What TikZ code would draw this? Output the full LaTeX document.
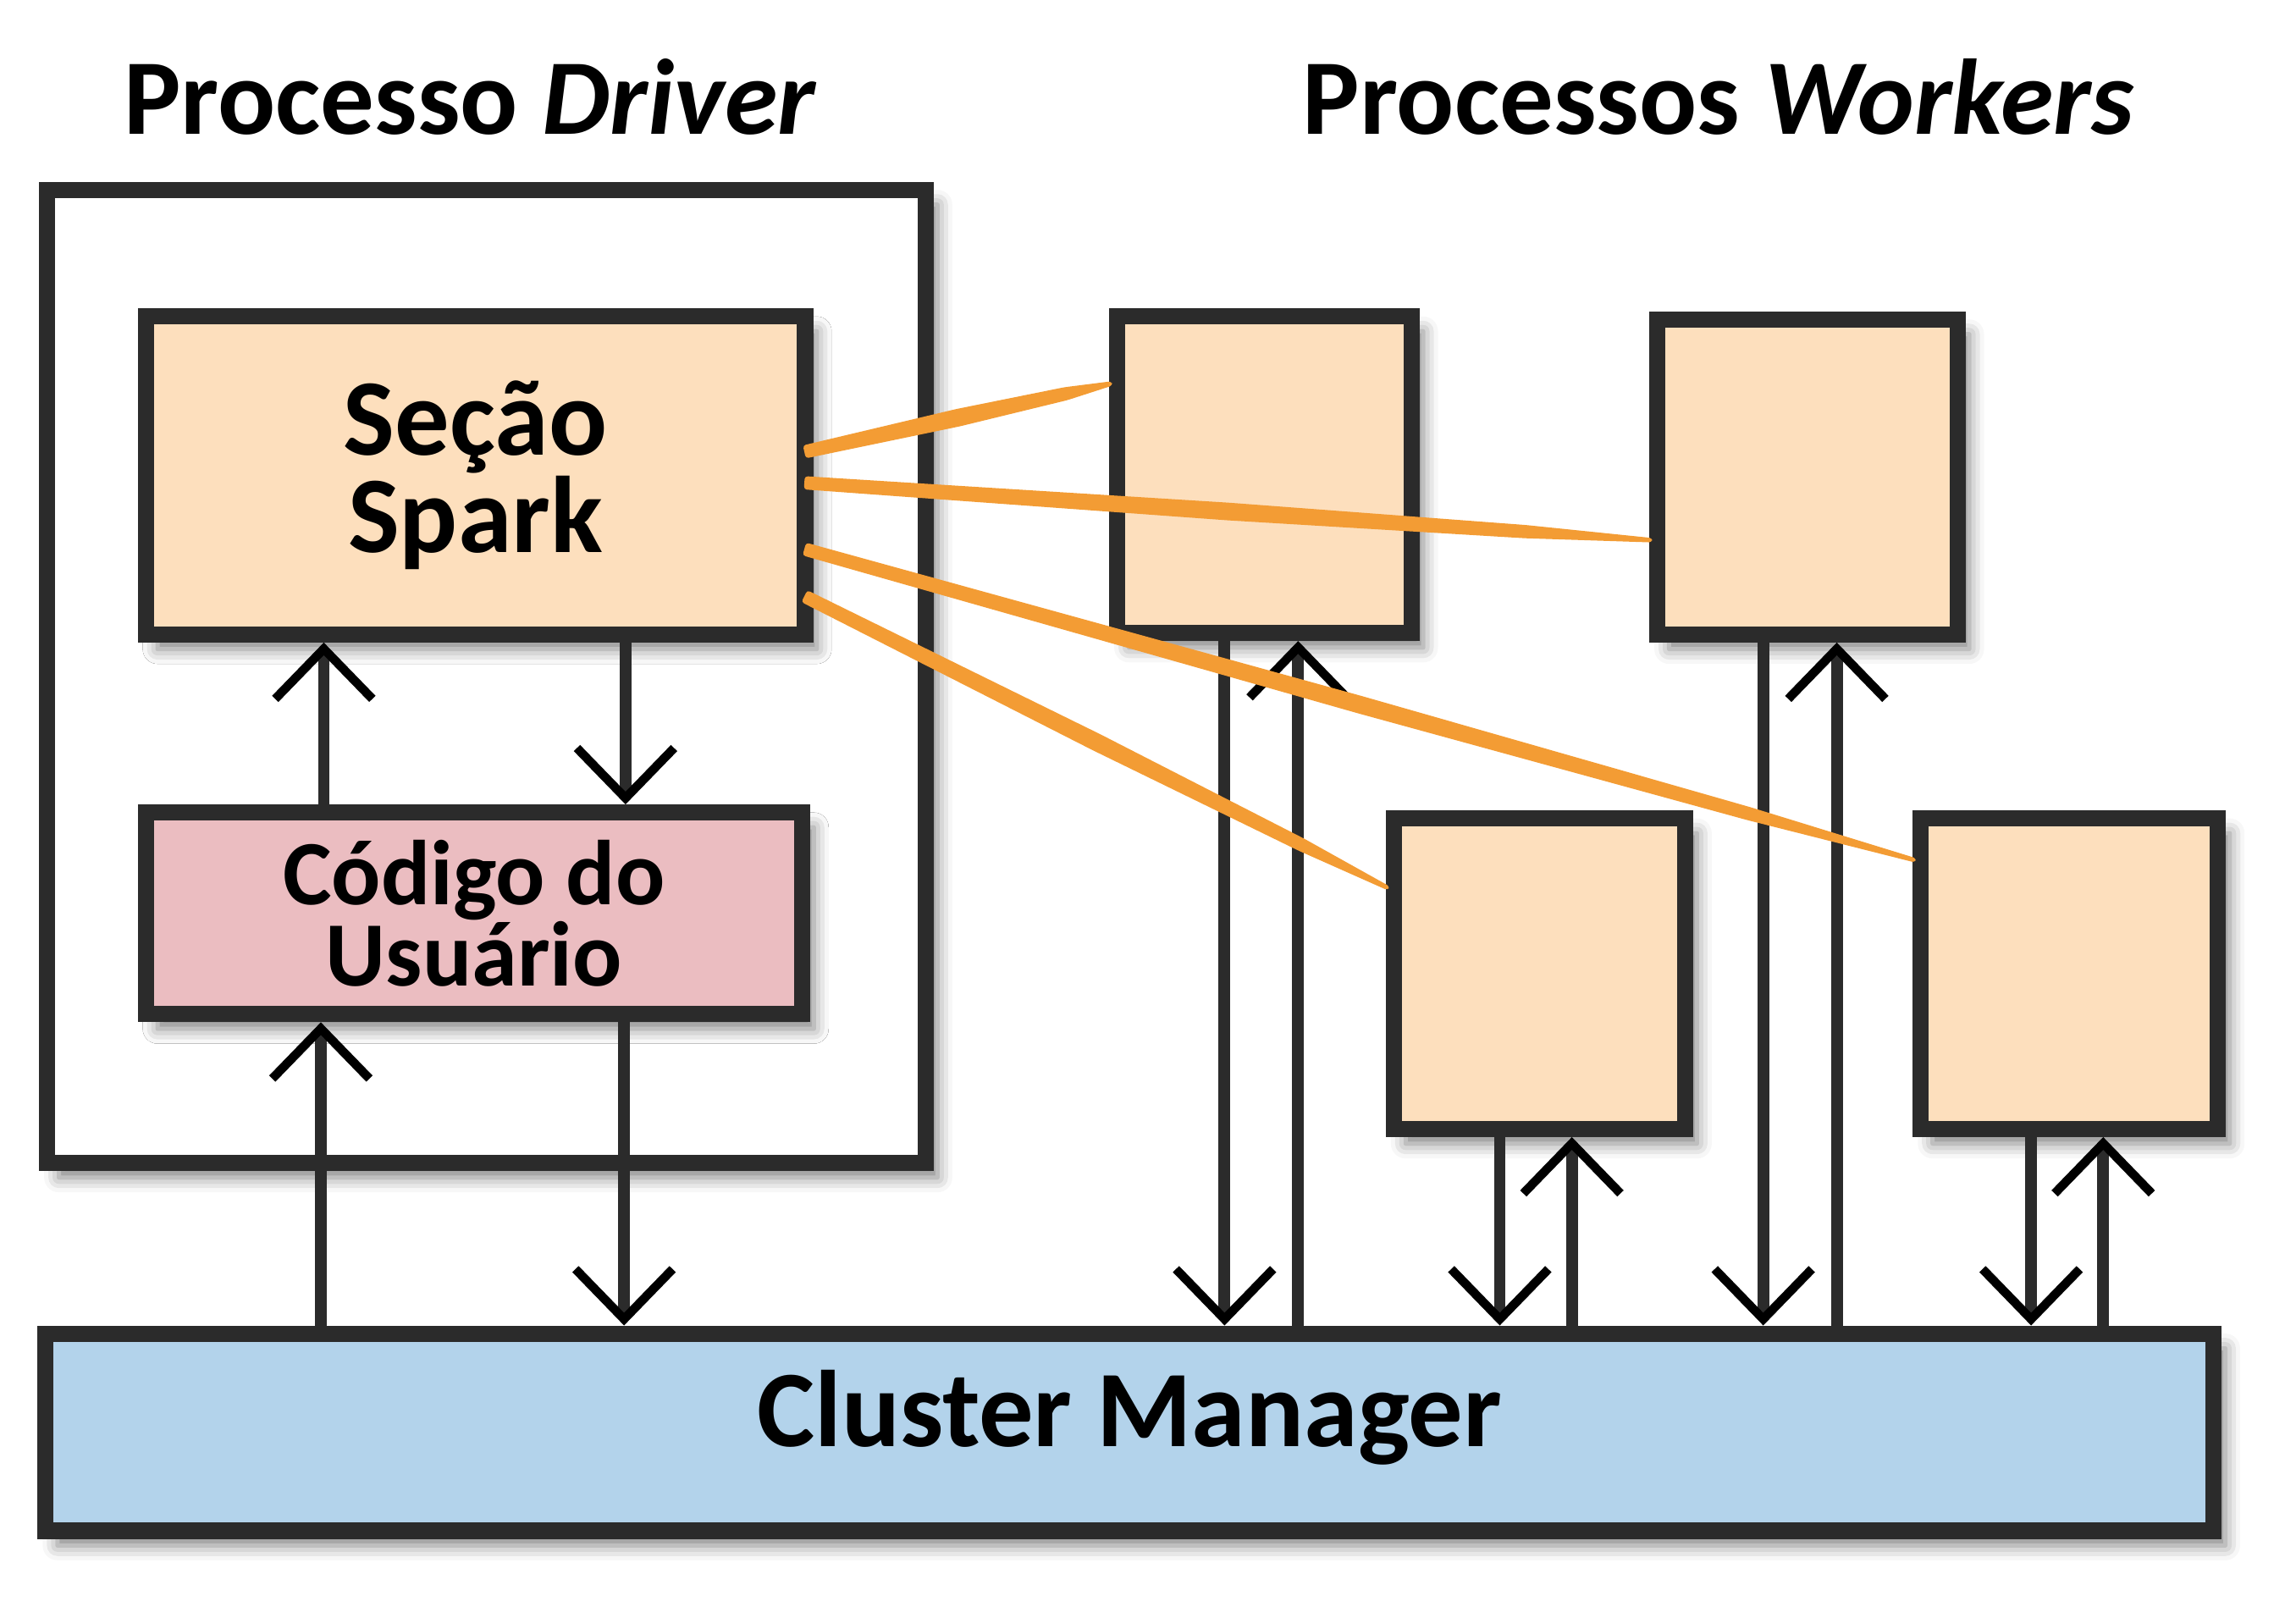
\documentclass[tikz,border=0pt]{standalone}
\usepackage{fontspec}
\setmainfont{Carlito}
\usetikzlibrary{arrows.meta,shadows.blur,calc}
\definecolor{peach}{HTML}{FDDFBD}
\definecolor{rose}{HTML}{EBBDC1}
\definecolor{sky}{HTML}{B3D3EB}
\definecolor{ink}{HTML}{2B2B2B}
\definecolor{flame}{HTML}{F39C34}

\begin{document}
\begin{tikzpicture}[x=1pt,y=-1pt,
  block/.style={draw=ink,line width=11pt,inner sep=0pt,
    blur shadow={shadow xshift=8pt,shadow yshift=-10pt,shadow blur radius=10pt,shadow opacity=50}},
  boxtext/.style={font=\bfseries\fontsize{73}{65}\selectfont,align=center},
  arr/.style={draw=ink,line width=8pt,
    -{Straight Barb[color=black,length=34pt,width=66pt,line width=6pt]}}]
  \useasboundingbox (0,0) rectangle (1560,1098.7);

  % titles
  \node[anchor=base west,inner sep=0pt,boxtext] (tdriver) at (84,91) {Processo \textit{Driver}};
  \node[anchor=base west,inner sep=0pt,boxtext] (tworkers) at (885,91) {Processos \textit{Workers}};

  % driver side
  \node[block,fill=white,minimum width=597pt,minimum height=661pt] (driver) at (330.5,459.5) {};
  \node[block,fill=peach,minimum width=448pt,minimum height=216pt,boxtext,
    font=\bfseries\fontsize{74}{66}\selectfont] (spark) at (323,323) {Seção\\Spark};
  \node[block,fill=rose,minimum width=446pt,minimum height=137pt,boxtext,
    font=\bfseries\fontsize{62.5}{53}\selectfont] (code) at (322,620.5) {Código do\\Usuário};

  % cluster manager
  \node[block,fill=sky,minimum width=1473pt,minimum height=134pt,boxtext,text depth=33pt,
    font=\bfseries\fontsize{74}{70}\selectfont] (cm) at (767.5,973) {Cluster Manager};

  % workers
  \node[block,fill=peach,minimum width=200pt,minimum height=215pt] (w1) at (859,322.5) {};
  \node[block,fill=peach,minimum width=204pt,minimum height=214pt] (w2) at (1228,324) {};
  \node[block,fill=peach,minimum width=198pt,minimum height=211pt] (w3) at (1046,661.5) {};
  \node[block,fill=peach,minimum width=202pt,minimum height=211pt] (w4) at (1406,661.5) {};

  % driver arrows
  \draw[arr] ([xshift=-102pt]code.north) -- ([xshift=-102pt]code.north |- spark.south);
  \draw[arr] ([xshift=102pt]spark.south) -- ([xshift=102pt]spark.south |- code.north);
  \draw[arr] ([xshift=-104pt]code.south |- cm.north) -- ([xshift=-104pt]code.south);
  \draw[arr] ([xshift=102pt]code.south) -- ([xshift=102pt]code.south |- cm.north);

  % worker arrows
  \foreach \w/\dn/\up in {w1/-27/23,w2/-30/20,w3/-27/22,w4/-26/23} {
    \draw[arr] ([xshift=\dn pt]\w.south) -- ([xshift=\dn pt]\w.south |- cm.north);
    \draw[arr] ([xshift=\up pt]\w.south |- cm.north) -- ([xshift=\up pt]\w.south);
  }

  % links from the spark session
  \coordinate (s1) at ([yshift=16pt,xshift=-6pt]spark.east);
  \coordinate (s2) at ([yshift=-5pt,xshift=-6pt]spark.east);
  \coordinate (s3) at ([yshift=-50pt,xshift=-6pt]spark.east);
  \coordinate (s4) at ([yshift=-82pt,xshift=-6pt]spark.east);
  \coordinate (e1) at ([yshift=62pt,xshift=2pt]w1.west);
  \coordinate (e2) at ([yshift=-43pt,xshift=2pt]w2.west);
  \coordinate (e3) at ([yshift=77pt,xshift=2pt]w4.west);
  \coordinate (e4) at ([yshift=58pt,xshift=2pt]w3.west);
  \foreach \a/\b in {s1/e1,s2/e2,s3/e3,s4/e4}
    \fill[flame,rounded corners=2pt] ($(\a)!4.5pt!90:(\b)$)
      -- ($(\a)!0.5!(\b)!6pt!90:(\b)$) -- ($(\a)!0.85!(\b)!4.5pt!90:(\b)$)
      -- ($(\b)!1.5pt!-90:(\a)$) -- ($(\b)!1.5pt!90:(\a)$)
      -- ($(\a)!0.85!(\b)!4.5pt!-90:(\b)$) -- ($(\a)!0.5!(\b)!6pt!-90:(\b)$)
      -- ($(\a)!4.5pt!-90:(\b)$) -- cycle;
\end{tikzpicture}
\end{document}
